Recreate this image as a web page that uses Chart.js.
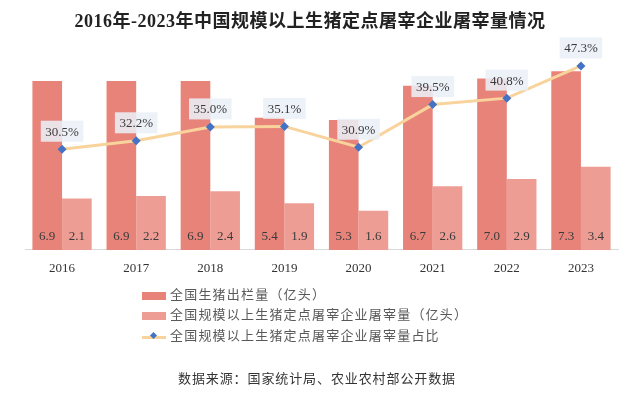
<!DOCTYPE html>
<html><head><meta charset="utf-8">
<script src="https://cdn.jsdelivr.net/npm/chart.js@4"></script>
<style>
html,body{margin:0;padding:0;background:#fff;}
#wrap{position:relative;width:640px;height:399px;overflow:hidden;}
#c{position:absolute;left:0;top:0;}
.t{position:absolute;white-space:nowrap;}
#title{left:-10px;width:640px;text-align:center;top:6px;font:bold 18px "Liberation Serif","Noto Sans CJK SC",serif;letter-spacing:0.5px;color:#222;}
.leg{left:142px;font:13px "Liberation Serif","Noto Sans CJK SC",serif;letter-spacing:1.2px;color:#595959;height:18px;line-height:18px;}
.sw{display:inline-block;width:24px;vertical-align:middle;margin-right:4px;position:relative;}
#src{left:-3px;width:640px;text-align:center;top:368px;font:13px "Liberation Serif","Noto Sans CJK SC",serif;letter-spacing:0.9px;color:#333;}
</style></head>
<body><div id="wrap">
<canvas id="c" width="640" height="399"></canvas>
<div class="t" id="title">2016年-2023年中国规模以上生猪定点屠宰企业屠宰量情况</div>
<div class="t leg" style="top:286px"><span class="sw" style="height:8px;background:#E8837A"></span>全国生猪出栏量（亿头）</div>
<div class="t leg" style="top:306px"><span class="sw" style="height:8px;background:#EE9D95"></span>全国规模以上生猪定点屠宰企业屠宰量（亿头）</div>
<div class="t leg" style="top:327px"><span class="sw" style="height:3px;background:#F8D39B"><span style="position:absolute;left:9px;top:-2.5px;width:5px;height:5px;background:#4472C4;transform:rotate(45deg)"></span></span>全国规模以上生猪定点屠宰企业屠宰量占比</div>
<div class="t" id="src">数据来源：国家统计局、农业农村部公开数据</div>
</div>
<script>
const years = ['2016','2017','2018','2019','2020','2021','2022','2023'];
const hogOutput = [6.9, 6.9, 6.9, 5.4, 5.3, 6.7, 7.0, 7.3];
const slaughter = [2.1, 2.2, 2.4, 1.9, 1.6, 2.6, 2.9, 3.4];
const share = [30.5, 32.2, 35.0, 35.1, 30.9, 39.5, 40.8, 47.3];

const serif = '"Liberation Serif","DejaVu Serif",serif';

const labelPlugin = {
  id: 'valueLabels',
  afterDatasetsDraw(chart) {
    const ctx = chart.ctx;
    ctx.save();
    ctx.font = '13px ' + serif;
    ctx.textAlign = 'center';
    ctx.textBaseline = 'middle';
    [0, 1].forEach(di => {
      const meta = chart.getDatasetMeta(di);
      meta.data.forEach((el, i) => {
        ctx.fillStyle = '#3a3a3a';
        ctx.fillText(chart.data.datasets[di].data[i].toFixed(1), el.x, chart.chartArea.bottom - 13);
      });
    });
    const lm = chart.getDatasetMeta(2);
    lm.data.forEach((el, i) => {
      const txt = chart.data.datasets[2].data[i].toFixed(1) + '%';
      const w = ctx.measureText(txt).width + 9;
      const h = 21;
      const cy = el.y - 18;
      ctx.fillStyle = 'rgba(234,239,247,0.88)';
      ctx.fillRect(el.x - w / 2, cy - h / 2, w, h);
      ctx.fillStyle = '#3a3a3a';
      ctx.fillText(txt, el.x, cy + 1);
    });
    ctx.restore();
  }
};

new Chart(document.getElementById('c'), {
  data: {
    labels: years,
    datasets: [
      { type: 'bar', label: '全国生猪出栏量（亿头）', data: hogOutput, backgroundColor: '#E8837A', yAxisID: 'y', order: 1, categoryPercentage: 0.8, barPercentage: 1.0 },
      { type: 'bar', label: '全国规模以上生猪定点屠宰企业屠宰量（亿头）', data: slaughter, backgroundColor: '#EE9D95', yAxisID: 'y', order: 1, categoryPercentage: 0.8, barPercentage: 1.0 },
      { type: 'line', label: '全国规模以上生猪定点屠宰企业屠宰量占比', data: share, yAxisID: 'y1', order: 0,
        borderColor: '#F8D39B', borderWidth: 3, tension: 0,
        pointStyle: 'rectRot', pointRadius: 4.5, pointBackgroundColor: '#4472C4', pointBorderColor: '#4472C4', pointBorderWidth: 0 }
    ]
  },
  options: {
    responsive: false,
    animation: false,
    events: [],
    layout: { padding: { left: 25, right: 22, top: 54, bottom: 111.5 } },
    plugins: { legend: { display: false }, title: { display: false }, tooltip: { enabled: false } },
    scales: {
      x: {
        grid: { display: false, drawTicks: false },
        border: { display: true, color: '#d9d9d9', width: 1 },
        ticks: { padding: 11, color: '#333', font: { family: serif, size: 13 } }
      },
      y: { display: false, min: 0, max: 8 },
      y1: { display: false, min: 10.2, max: 49.7 }
    }
  },
  plugins: [labelPlugin]
});
</script>
</body></html>
